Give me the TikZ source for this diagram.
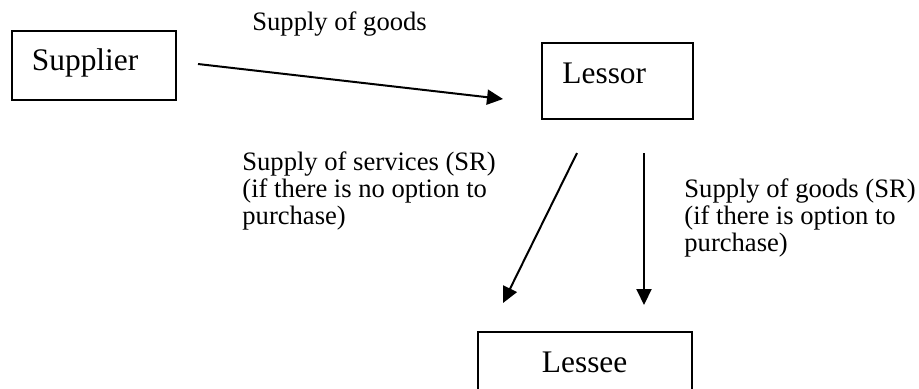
\documentclass[tikz,border=0pt]{standalone}
\usepackage{fontspec}
\setmainfont{Liberation Serif}
\usepackage{tikz}
\usetikzlibrary{arrows.meta,positioning}
\tikzset{
    lsBox/.style={
        rectangle,
        draw,
        line width=0.9pt,
        anchor=north west,
        align=left,
        font=\fontsize{15.7}{18}\selectfont
    },
    lsLabel/.style={
        font=\fontsize{13.3}{13.5}\selectfont,
        align=left,
        inner sep=0pt
    }
}

\begin{document}
\begin{tikzpicture}[
    x=0.5pt, y=-0.5pt,
    arr/.style={-{Triangle[length=8pt, width=7.5pt]}, line width=1pt}
]
\useasboundingbox (0,0) rectangle (919,388);

% parties
\node[lsBox, text width=62pt, inner xsep=10pt, inner ysep=9pt, text height=11pt, text depth=5.5pt] (supplier) at (11,30) {Supplier};
\node[lsBox, text width=55pt, inner xsep=10.25pt, inner ysep=10pt, text height=10.5pt, text depth=7.5pt] (lessor) at (541,42) {Lessor};
\node[lsBox, text width=43pt, inner xsep=32pt, inner ysep=9.5pt, text height=11pt, text depth=2pt] (lessee) at (477,331) {Lessee};

% arrow ends
\coordinate (goodsFrom) at (198,64);
\coordinate (goodsTo) at (503,99);
\coordinate (svcFrom) at (577,153);
\coordinate (svcTo) at (503,303);
\coordinate (optFrom) at (644,153);
\coordinate (optTo) at (644,305);

\draw[arr] (goodsFrom) -- (goodsTo);
\draw[arr] (svcFrom) -- (svcTo);
\draw[arr] (optFrom) -- (optTo);

% labels
\node[lsLabel, anchor=base west] (goodsLbl) at (252,30) {Supply of goods};
\node[lsLabel, anchor=north west] (svcLbl) at (242,151) {Supply of services (SR)\\(if there is no option to\\purchase)};
\node[lsLabel, anchor=north west] (optLbl) at (684,178) {Supply of goods (SR)\\(if there is option to\\purchase)};
\end{tikzpicture}
\end{document}
